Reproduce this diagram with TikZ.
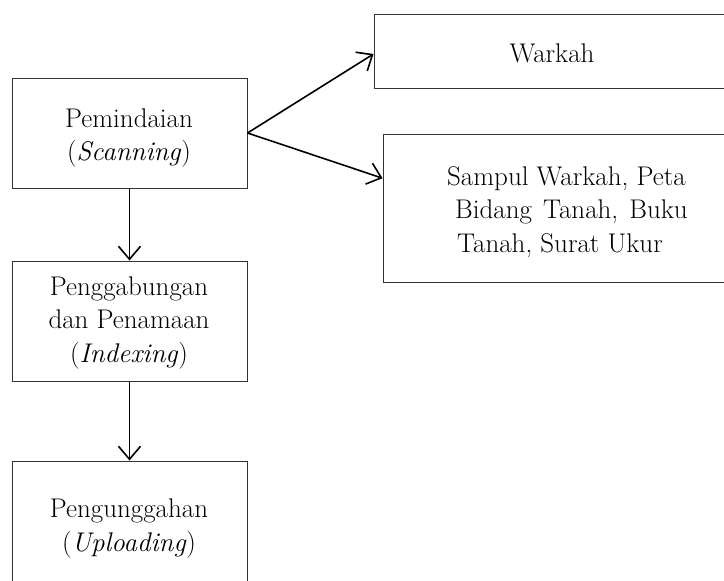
\documentclass[tikz,border=0pt]{standalone}
\usetikzlibrary{arrows.meta,calc}
\begin{document}
\begin{tikzpicture}[x=1pt,y=-1pt,
  box/.style={draw=black!80,line width=1pt,rectangle,inner sep=0pt},
  txt/.style={font=\fontsize{27}{33}\selectfont,anchor=base,inner sep=0pt},
  arr/.style={line width=1.6pt,-{Straight Barb[length=13pt,width=22pt,line width=1.6pt]}}]
\useasboundingbox (0,0) rectangle (724,581);
\clip (0,0) rectangle (724,581);
\fill[white] (0,0) rectangle (724,581);
% boxes
\node[box,minimum width=235pt,minimum height=110pt] (scan) at (129.5,133) {};
\node[box,minimum width=360pt,minimum height=74pt] (warkah) at (554,51) {};
\node[box,minimum width=350pt,minimum height=148pt] (sampul) at (558,208) {};
\node[box,minimum width=235pt,minimum height=120pt] (index) at (129.5,321) {};
\node[box,minimum width=235pt,minimum height=140pt] (upload) at (129.5,531) {};
% texts
\node[txt] (t1) at (129,127) {Pemindaian};
\node[txt] (t2) at (129,160) {(\textit{Scanning})};
\node[txt] (t3) at (552,62) {Warkah};
\node[txt,anchor=base west] (t4) at (447,185) {Sampul Warkah, Peta};
\node[txt,anchor=base west] (t5) at (455,218) {Bidang\hspace{3pt} Tanah,\hspace{3pt} Buku};
\node[txt,anchor=base west] (t6) at (457,252) {Tanah, Surat Ukur};
\node[txt] (t7) at (129,295) {Penggabungan};
\node[txt] (t8) at (129,328) {dan Penamaan};
\node[txt] (t9) at (129,362) {(\textit{Indexing})};
\node[txt] (t10) at (129,517) {Pengunggahan};
\node[txt] (t11) at (129,551) {(\textit{Uploading})};
% connectors
\coordinate (sw) at ($(sampul.north west)!0.3!(sampul.south west)$);
\coordinate (ww) at ($(warkah.north west)!0.54!(warkah.south west)$);
\draw[arr] (scan.east) -- (ww);
\draw[arr] (scan.east) -- (sw);
\draw[arr] (scan.south) -- (index.north);
\draw[arr] (index.south) -- (upload.north);
\end{tikzpicture}
\end{document}
